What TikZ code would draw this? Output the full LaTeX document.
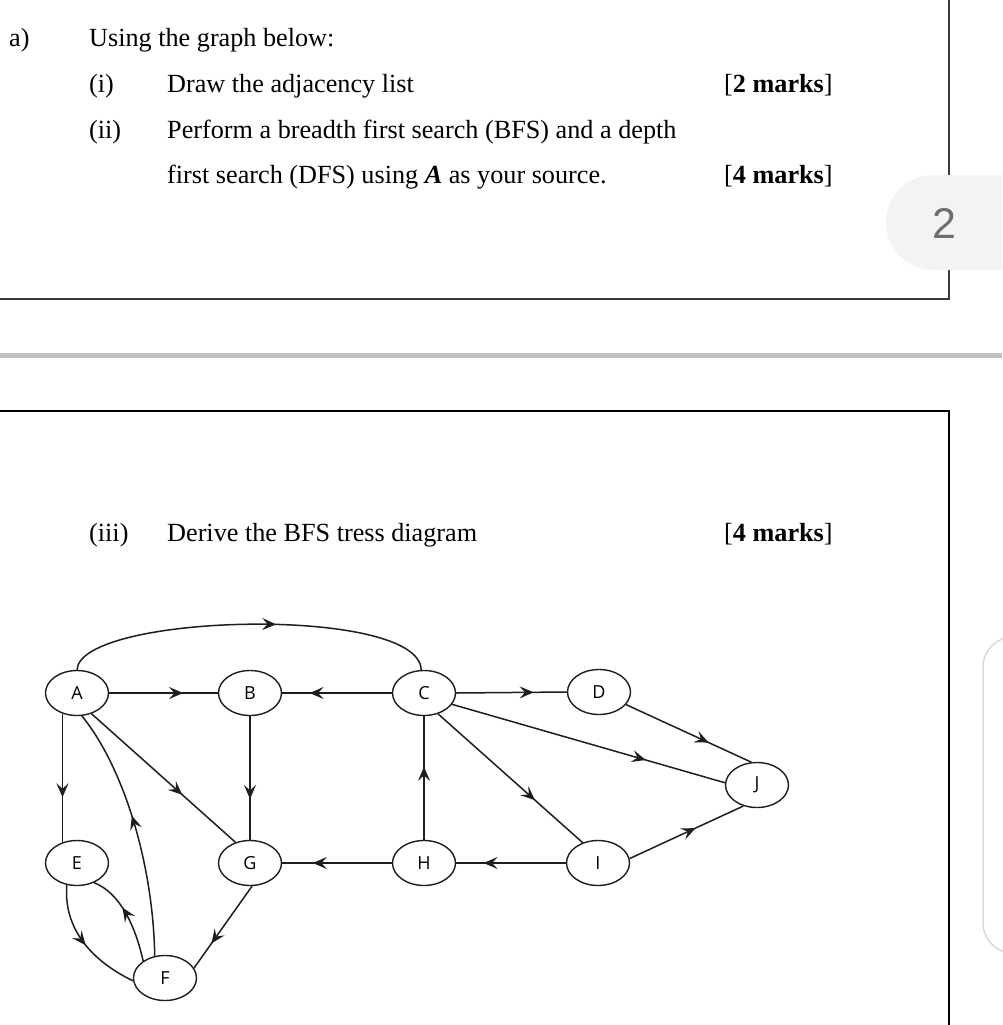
\documentclass[tikz,border=0pt]{standalone}
\usepackage{fontspec}
\setmainfont{Liberation Serif}
\newfontfamily\nodefont{Open Sans}
\newfontfamily\badgefont{Liberation Sans}
\usetikzlibrary{arrows.meta,decorations.markings,shapes.geometric}
\definecolor{boxline}{HTML}{3A3A3A}
\definecolor{band}{HTML}{C2C2C2}
\definecolor{badgefill}{HTML}{F3F3F3}
\definecolor{badgetext}{HTML}{6E6E6E}
\definecolor{edgecol}{HTML}{1E1E1E}
\definecolor{shadowcol}{HTML}{D9D9D9}
\tikzset{
  vtx/.style={ellipse, draw=edgecol, line width=1.4pt, minimum width=63pt, minimum height=45pt,
    inner sep=0pt, fill=white, font=\nodefont\fontsize{18}{18}\selectfont},
  edge/.style={draw=edgecol, line width=1.5pt},
  mid arrow/.style={postaction={decorate}, decoration={markings,
    mark=at position #1 with {\arrow{Stealth[length=14pt,width=12pt,inset=5.5pt]}}}},
  txt/.style={anchor=base west, inner sep=0pt, font=\fontsize{26.2}{30}\selectfont},
  frame/.style={draw=boxline, line width=2pt},
}
\begin{document}
\begin{tikzpicture}[x=1pt,y=-1pt]
\useasboundingbox (0,0) rectangle (1002,1025);
\fill[white] (0,0) rectangle (1002,1025);

% upper box
\draw[frame] (0,299) -- (949,299) -- (949,0);
% separator band
\fill[band] (0,353) rectangle (1002,358);
% lower box
\draw[frame, draw=black] (0,410.5) -- (949,410.5) -- (949,1025);

% page badge
\fill[badgefill] (1002,175) -- (933.5,175) arc[start angle=90,end angle=270,radius=47.5pt] -- (1002,270) -- cycle;
\node[text=badgetext, font=\badgefont\fontsize{43}{43}\selectfont] (pg) at (944,223) {2};

% right side card
\draw[shadowcol, line width=1.5pt, fill=white, rounded corners=30pt] (983,637) rectangle (1040,953);

% texts
\node[txt] (ta) at (9,47) {a)};
\node[txt] (t0) at (89,47) {Using the graph below:};
\node[txt] (t1a) at (89,92.5) {(i)};
\node[txt] (t1) at (167,92.5) {Draw the adjacency list};
\node[txt] (m1) at (724,92.5) {[\textbf{2 marks}]};
\node[txt] (t2a) at (89,138) {(ii)};
\node[txt] (t2) at (167,138) {Perform a breadth first search (BFS) and a depth};
\node[txt] (t2b) at (167,183) {first search (DFS) using \textbf{\textit{A}} as your source.};
\node[txt] (m2) at (724,183) {[\textbf{4 marks}]};
\node[txt] (t3a) at (89,541) {(iii)};
\node[txt] (t3) at (167,541) {Derive the BFS tress diagram};
\node[txt] (m3) at (724,541) {[\textbf{4 marks}]};

% graph nodes
\node[vtx] (A) at (77,693) {A};
\node[vtx] (B) at (250,693) {B};
\node[vtx] (C) at (424,693) {C};
\node[vtx] (D) at (599,692) {D};
\node[vtx] (E) at (77,863) {E};
\node[vtx] (G) at (250,863) {G};
\node[vtx] (H) at (424,863) {H};
\node[vtx] (I) at (598,863) {I};
\node[vtx] (J) at (757,785) {J};
\node[vtx] (F) at (165,978) {F};

% edges
\draw[edge, mid arrow=0.57] (A.north) .. controls (80,613) and (420,605) .. (C.97);
\draw[edge, mid arrow=0.68] (A.east) -- (B.west);
\draw[edge, mid arrow=0.75] (C.west) -- (B.east);
\draw[edge, mid arrow=0.70] (C.east) -- (D.west);
\draw[edge, mid arrow=0.65] (A.235) -- (E.125);
\draw[edge, mid arrow=0.63] (A.305) -- (G.125);
\draw[edge, mid arrow=0.67] (B.south) -- (G.north);
\draw[edge, mid arrow=0.59] (H.north) -- (C.south);
\draw[edge, mid arrow=0.72] (H.west) -- (G.east);
\draw[edge, mid arrow=0.75] (I.west) -- (H.east);
\draw[edge, mid arrow=0.71] (C.338) -- (J.176);
\draw[edge, mid arrow=0.67] (C.304) -- (I.127);
\draw[edge, mid arrow=0.66] (D.335) -- (J.104);
\draw[edge, mid arrow=0.58] (I.8) -- (J.237);
\draw[edge, mid arrow=0.70] (G.275) -- (F.19);
\draw[edge, mid arrow=0.56] (F.115) .. controls (153,860) and (122,765) .. (A.282);
\draw[edge, mid arrow=0.52] (E.245) .. controls (63,935) and (100,965) .. (F.185);
\draw[edge, mid arrow=0.6] (F.142) .. controls (135,925) and (120,893) .. (E.311);
\end{tikzpicture}
\end{document}
